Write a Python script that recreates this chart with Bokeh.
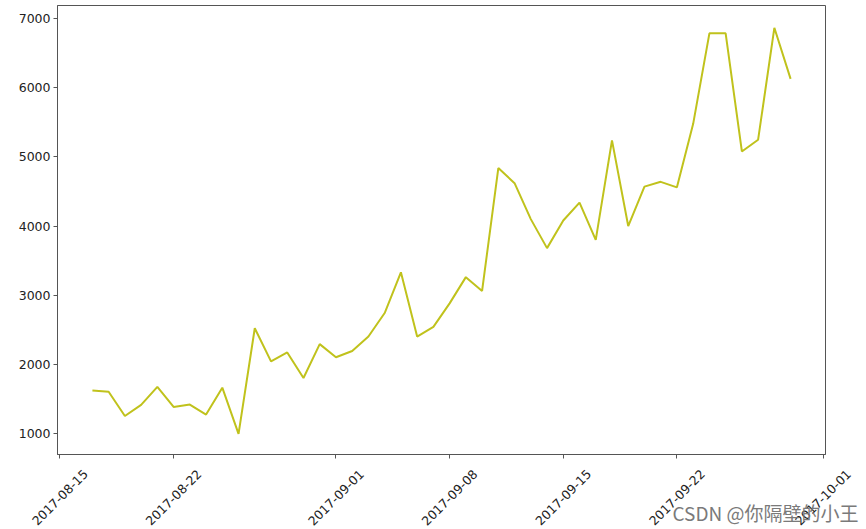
import math
import pandas as pd
from bokeh.plotting import figure
from bokeh.layouts import column
from bokeh.core.properties import value
from bokeh.models import (ColumnDataSource, Range1d, FixedTicker,
                          DatetimeTickFormatter, Label, LabelSet)
from bokeh.embed import file_html
from bokeh.resources import INLINE

# ---- data ----
start_date = "2017-08-17"
end_date = "2017-09-29"
dates = pd.date_range(start_date, end_date, freq="D")
values = [1620, 1600, 1250, 1410, 1670, 1380, 1415, 1270, 1660, 990,
          2520, 2040, 2170, 1800, 2290, 2100, 2190, 2400, 2740, 3330,
          2400, 2540, 2880, 3260, 3060, 4840, 4620, 4100, 3680, 4080,
          4340, 3800, 5240, 4000, 4570, 4640, 4560, 5480, 6790, 6790,
          5080, 5250, 6870, 6130]
x_tick_labels = ["2017-08-15", "2017-08-22", "2017-09-01", "2017-09-08",
                 "2017-09-15", "2017-09-22", "2017-10-01"]
y_ticks = [1000, 2000, 3000, 4000, 5000, 6000, 7000]
watermark = "CSDN @你隔壁的小王"

# ---- layout constants ----
W = 866
TOP_H = 462
BOT_H = 529 - TOP_H
BORDER_L, BORDER_R, BORDER_T, BORDER_B = 57, 41, 5, 8
FRAME_W = W - BORDER_L - BORDER_R

FONT = "DejaVu Sans"
FSIZE = "12.5px"
TXT = "#222222"
SPINE = "#555555"
LINE = "#c0c21c"

source = ColumnDataSource(data=dict(x=dates, y=values))

span = dates[-1] - dates[0]
pad = span * 0.05
x0 = (dates[0] - pad).value / 1e6
x1 = (dates[-1] + pad).value / 1e6
x_range = Range1d(start=x0, end=x1)
y_range = Range1d(start=692, end=7193)

p = figure(x_axis_type="datetime", x_range=x_range, y_range=y_range,
           width=W, height=TOP_H,
           min_border_left=BORDER_L, min_border_right=BORDER_R,
           min_border_top=BORDER_T, min_border_bottom=BORDER_B,
           output_backend="svg", toolbar_location=None)

p.line("x", "y", source=source, line_color=LINE, line_width=2)

tick_ms = [pd.Timestamp(t).value / 1e6 for t in x_tick_labels]
xa = p.xaxis[0]
xa.ticker = FixedTicker(ticks=tick_ms)
xa.formatter = DatetimeTickFormatter(days="%Y-%m-%d", months="%Y-%m-%d",
                                     years="%Y-%m-%d")
xa.major_label_text_color = None
xa.major_label_text_font_size = "1px"
xa.major_label_standoff = 0
xa.axis_line_color = SPINE
xa.major_tick_line_color = SPINE
xa.major_tick_out = 4
xa.major_tick_in = 0
xa.minor_tick_line_color = None

ya = p.yaxis[0]
ya.ticker = FixedTicker(ticks=y_ticks)
ya.major_label_text_font = FONT
ya.major_label_text_font_size = FSIZE
ya.major_label_text_color = TXT
ya.axis_line_color = SPINE
ya.major_tick_line_color = SPINE
ya.major_tick_out = 4
ya.major_tick_in = 0
ya.minor_tick_line_color = None
ya.major_label_standoff = 3

p.xgrid.grid_line_color = None
p.ygrid.grid_line_color = None
p.outline_line_color = SPINE
p.outline_line_alpha = 1.0
p.background_fill_color = "white"
p.border_fill_color = "white"

# ---- strip under the chart for the rotated date labels (same x scale) ----
ms_per_px = (x1 - x0) / FRAME_W
x_range2 = Range1d(start=x0 - BORDER_L * ms_per_px, end=x1 + BORDER_R * ms_per_px)
p2 = figure(x_range=x_range2, y_range=Range1d(0, 1), width=W, height=BOT_H,
            min_border=0, min_border_left=0, min_border_right=0,
            min_border_top=0, min_border_bottom=0,
            x_axis_location=None, y_axis_location=None,
            output_backend="svg", toolbar_location=None)
for fig in (p, p2):
    if "frame_align" in fig.properties():
        fig.frame_align = False
p2.outline_line_color = None
p2.xgrid.grid_line_color = None
p2.ygrid.grid_line_color = None
p2.background_fill_color = "white"
p2.border_fill_color = "white"

tick_src = ColumnDataSource(data=dict(x=tick_ms, text=x_tick_labels))
p2.add_layout(LabelSet(x="x", y=32, x_units="data", y_units="screen",
                       text="text", source=tick_src, angle=math.pi / 4,
                       text_align="center", text_baseline="middle",
                       text_font=value(FONT), text_font_size=value(FSIZE),
                       text_color=TXT))

p2.add_layout(Label(x=672, y=17, x_units="screen", y_units="screen",
                    text=watermark, text_font="Noto Sans CJK SC",
                    text_font_size="19px", text_color="#7a7a7a",
                    text_align="left", text_baseline="middle"))

layout = column(p, p2, spacing=0)
open("out.html", "w").write(file_html(layout, INLINE))
